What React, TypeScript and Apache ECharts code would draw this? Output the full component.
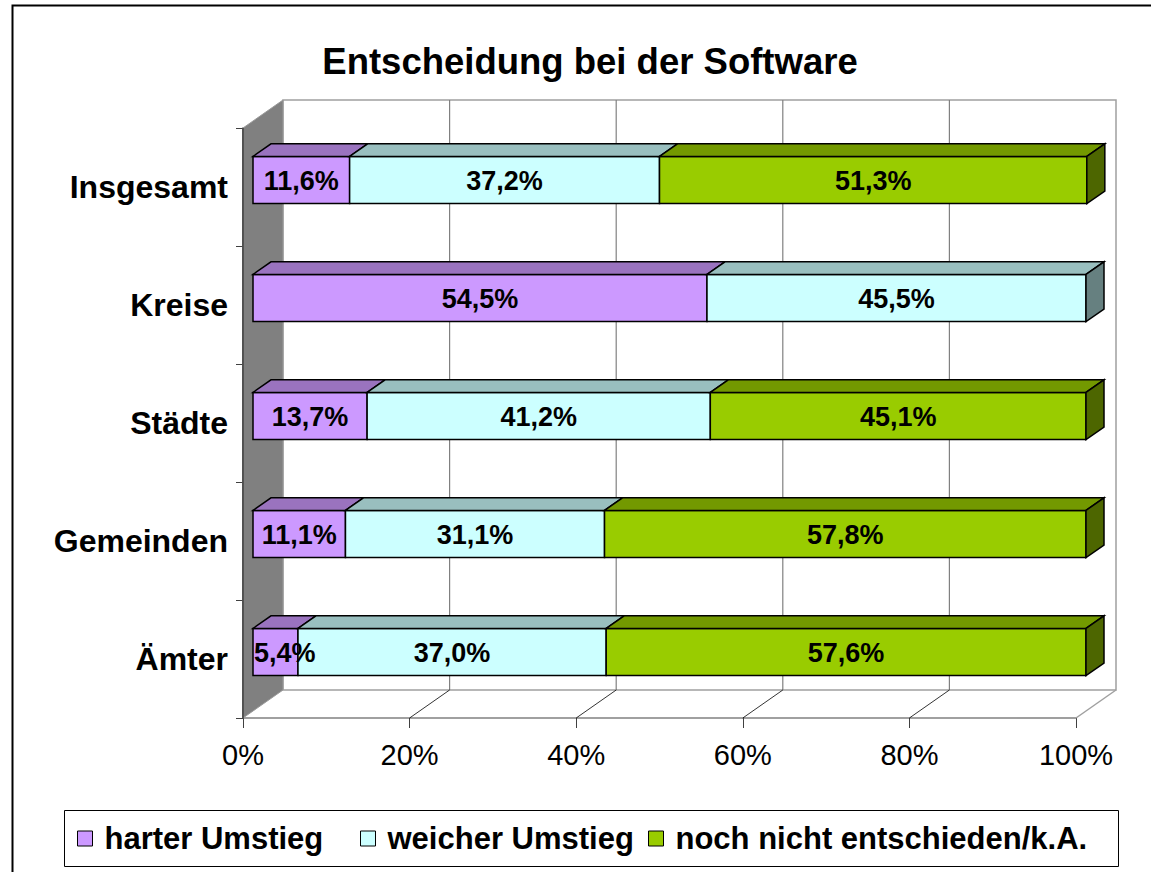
import React, { useEffect, useRef } from "react";
import * as echarts from "echarts";

const categories = ["Insgesamt", "Kreise", "Städte", "Gemeinden", "Ämter"];
const seriesNames = ["harter Umstieg", "weicher Umstieg", "noch nicht entschieden/k.A."];
const harter = [11.6, 54.5, 13.7, 11.1, 5.4];
const weicher = [37.2, 45.5, 41.2, 31.1, 37.0];
const nochNicht = [51.3, 0, 45.1, 57.8, 57.6];
const xTicks = [0, 20, 40, 60, 80, 100];

const FONT = '"Liberation Sans", Arial, sans-serif';
const frontColors = ["#CC99FF", "#CCFFFF", "#99CC00"];
const topColors = ["#9A73BF", "#99BFBF", "#739900"];
const sideColors = ["#664D80", "#668080", "#4D6600"];

// 3D geometry (pixels)
const DEPTH_X = 40;
const DEPTH_Y = -28;
const BAR_FX = 10;
const BAR_FY = -7;
const BAR_DX = 18;
const BAR_DY = -12.6;
const BAR_RATIO = 0.4;
const BAR_FONT = `bold 27px ${FONT}`;

const fmt = (v: number) => v.toFixed(1).replace(".", ",") + "%";

let measureCtx: CanvasRenderingContext2D | null = null;
const textWidth = (t: string, font: string) => {
  if (!measureCtx) measureCtx = document.createElement("canvas").getContext("2d");
  if (!measureCtx) return t.length * 15;
  measureCtx.font = font;
  return measureCtx.measureText(t).width;
};

export default function App() {
  const ref = useRef<HTMLDivElement>(null);

  useEffect(() => {
    if (!ref.current) return;
    const chart = echarts.init(ref.current, null, { renderer: "svg" });

    const all = [harter, weicher, nochNicht];

    const barSeries = all.map((vals, s) => {
      const data = vals.map((v, c) => {
        let start = 0;
        for (let k = 0; k < s; k++) start += all[k][c];
        let last = 1;
        for (let k = s + 1; k < all.length; k++) if (all[k][c] > 0) last = 0;
        return [v, c, start, last];
      });
      return {
        type: "custom",
        name: seriesNames[s],
        z: 3,
        itemStyle: { color: frontColors[s], borderColor: "#000", borderWidth: 1 },
        encode: { x: 0, y: 1 },
        data,
        renderItem: (params: any, api: any) => {
          const val = api.value(0);
          const cat = api.value(1);
          const start = api.value(2);
          const last = api.value(3);
          if (!val) return null;
          const p0 = api.coord([start, cat]);
          const p1 = api.coord([start + val, cat]);
          const band = api.size([0, 1])[1];
          const h = band * BAR_RATIO;
          const x0 = p0[0] + BAR_FX;
          const x1 = p1[0] + BAR_FX;
          const yc = p0[1] + BAR_FY;
          const top = yc - h / 2;
          const bot = yc + h / 2;
          const children: any[] = [
            {
              type: "rect",
              shape: { x: x0, y: top, width: x1 - x0, height: h },
              style: { fill: frontColors[s], stroke: "#000", lineWidth: 1.5 },
            },
            {
              type: "polygon",
              shape: {
                points: [
                  [x0, top],
                  [x1, top],
                  [x1 + BAR_DX, top + BAR_DY],
                  [x0 + BAR_DX, top + BAR_DY],
                ],
              },
              style: { fill: topColors[s], stroke: "#000", lineWidth: 1.5 },
            },
          ];
          if (last) {
            children.push({
              type: "polygon",
              shape: {
                points: [
                  [x1, top],
                  [x1 + BAR_DX, top + BAR_DY],
                  [x1 + BAR_DX, bot + BAR_DY],
                  [x1, bot],
                ],
              },
              style: { fill: sideColors[s], stroke: "#000", lineWidth: 1.5 },
            });
          }
          const label = fmt(val);
          const tw = textWidth(label, BAR_FONT);
          const fits = tw <= x1 - x0;
          children.push({
            type: "text",
            z2: 100,
            style: {
              text: label,
              x: fits ? (x0 + x1) / 2 : x0 + 1,
              y: yc + 1,
              align: fits ? "center" : "left",
              verticalAlign: "middle",
              fill: "#000",
              font: BAR_FONT,
            },
          });
          return { type: "group", children };
        },
      };
    });

    const frameSeries = {
      type: "custom",
      name: "frame",
      z: 1,
      silent: true,
      encode: { x: 0, y: 1 },
      data: xTicks.map((t) => [t, 0]),
      renderItem: (params: any, api: any) => {
        const t = api.value(0);
        const band = api.size([0, 1])[1];
        const pTop = api.coord([0, 0]);
        const pBot = api.coord([0, categories.length - 1]);
        const T = pTop[1] - band / 2;
        const B = pBot[1] + band / 2;
        const L = pTop[0];
        const R = api.coord([xTicks[xTicks.length - 1], 0])[0];
        const x = api.coord([t, 0])[0];
        const children: any[] = [];
        if (params.dataIndex === 0) {
          children.push({
            type: "rect",
            shape: { x: L + DEPTH_X, y: T + DEPTH_Y, width: R - L, height: B - T },
            style: { fill: "#fff", stroke: "#a0a0a0", lineWidth: 1.5 },
          });
          children.push({
            type: "polygon",
            shape: {
              points: [
                [L, T],
                [L + DEPTH_X, T + DEPTH_Y],
                [L + DEPTH_X, B + DEPTH_Y],
                [L, B],
              ],
            },
            style: { fill: "#808080", stroke: "#9a9a9a", lineWidth: 1 },
          });
          children.push({
            type: "line",
            shape: { x1: L, y1: T, x2: L, y2: B },
            style: { stroke: "#404040", lineWidth: 1.5 },
          });
        } else {
          const last = params.dataIndex === xTicks.length - 1;
          if (!last) {
            children.push({
              type: "line",
              shape: { x1: x + DEPTH_X, y1: T + DEPTH_Y, x2: x + DEPTH_X, y2: B + DEPTH_Y },
              style: { stroke: "#808080", lineWidth: 1.2 },
            });
          }
          children.push({
            type: "line",
            shape: { x1: x, y1: B, x2: x + DEPTH_X, y2: B + DEPTH_Y },
            style: { stroke: last ? "#a0a0a0" : "#000", lineWidth: last ? 1.5 : 0.8 },
          });
        }
        return { type: "group", children };
      },
    };

    const legendX = [77, 360, 648];

    chart.setOption({
      animation: false,
      backgroundColor: "#fff",
      grid: { left: 243, right: 75, top: 128, bottom: 154, containLabel: false },
      xAxis: {
        type: "value",
        min: 0,
        max: 100,
        interval: 20,
        axisLine: { show: true, lineStyle: { color: "#808080", width: 1.5 } },
        axisTick: { show: true, length: 10, lineStyle: { color: "#404040", width: 1 } },
        splitLine: { show: false },
        axisLabel: {
          formatter: "{value}%",
          color: "#000",
          fontFamily: FONT,
          fontSize: 29,
          margin: 22,
        },
      },
      yAxis: {
        type: "category",
        data: categories,
        inverse: true,
        axisLine: { show: true, lineStyle: { color: "#404040", width: 1.5 } },
        axisTick: { show: true, length: 7, lineStyle: { color: "#404040" } },
        splitLine: { show: false },
        axisLabel: {
          color: "#000",
          fontFamily: FONT,
          fontWeight: "bold",
          fontSize: 32,
          margin: 15,
        },
      },
      legend: seriesNames.map((n, i) => ({
        data: [n],
        left: legendX[i],
        top: 823,
        padding: 0,
        itemWidth: 15,
        itemHeight: 15,
        icon: "rect",
        selectedMode: false,
        itemStyle: { borderColor: "#000", borderWidth: 1 },
        textStyle: {
          color: "#000",
          fontFamily: FONT,
          fontWeight: "bold",
          fontSize: 31,
          lineHeight: 31,
          padding: [0, 0, 0, 7],
        },
      })),
      graphic: [
        {
          type: "rect",
          z: -10,
          shape: { x: 12.5, y: 5.5, width: 1300, height: 1000 },
          style: { fill: "none", stroke: "#000", lineWidth: 2 },
        },
        {
          type: "rect",
          z: -5,
          shape: { x: 64.5, y: 810.5, width: 1054, height: 56 },
          style: { fill: "#fff", stroke: "#000", lineWidth: 1 },
        },
        {
          type: "text",
          style: {
            text: "Entscheidung bei der Software",
            x: 590,
            y: 61,
            align: "center",
            verticalAlign: "middle",
            fill: "#000",
            font: `bold 36.5px ${FONT}`,
          },
        },
      ],
      series: [frameSeries, ...barSeries],
    });

    return () => chart.dispose();
  }, []);

  return (
    <div
      ref={ref}
      style={{ position: "fixed", left: 0, top: 0, width: 1151, height: 872 }}
    />
  );
}
